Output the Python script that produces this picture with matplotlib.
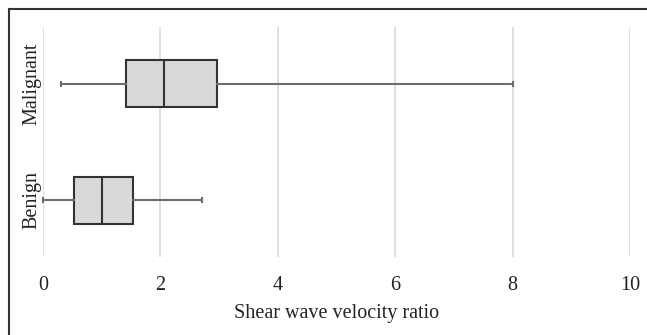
import matplotlib
matplotlib.use("Agg")
import matplotlib.pyplot as plt
from matplotlib.lines import Line2D

categories = ["Benign", "Malignant"]
whisker_low = [0.0, 0.31]
q1 = [0.52, 1.41]
median = [1.0, 2.06]
q3 = [1.53, 2.97]
whisker_high = [2.71, 8.0]
xticks = [0, 2, 4, 6, 8, 10]
xlabel = "Shear wave velocity ratio"

plt.rcParams['font.family'] = ['Liberation Serif', 'DejaVu Serif']

fig = plt.figure(figsize=(6.47, 3.35), dpi=100)
ax = fig.add_axes([43/647, (335-257)/335, 587/647, 230/335])

stats = []
for i, c in enumerate(categories):
    stats.append(dict(label=c, whislo=whisker_low[i], q1=q1[i], med=median[i],
                      q3=q3[i], whishi=whisker_high[i], fliers=[]))

ax.bxp(stats, positions=[1, 2], vert=False, widths=0.405, patch_artist=True,
       showfliers=False,
       boxprops=dict(facecolor="#d9d9d9", edgecolor="#333333", linewidth=1.5),
       medianprops=dict(color="#333333", linewidth=1.5),
       whiskerprops=dict(color="#6e6e6e", linewidth=1.5),
       capprops=dict(color="#6e6e6e", linewidth=1.5),
       capwidths=0.035)

for artist in ax.get_children():
    try:
        artist.set_clip_on(False)
    except Exception:
        pass

ax.set_xlim(0, 10)
ax.set_ylim(0.51, 2.49)
ax.set_xticks(xticks)
ax.set_xticklabels([str(t) for t in xticks], fontsize=14.5, color="#222222")
ax.set_yticks([1, 2])
ax.set_yticklabels(categories, rotation=90, va="center", fontsize=14.5, color="#222222")
ax.tick_params(axis='x', length=0, pad=14)
ax.tick_params(axis='y', length=0, pad=1)
ax.xaxis.grid(True, color="#d9d9d9", linewidth=1.2)
ax.set_axisbelow(True)
for s in ax.spines.values():
    s.set_visible(False)
ax.set_xlabel(xlabel, fontsize=14.5, color="#222222", labelpad=6)

fig.add_artist(Line2D([9/647, 9/647], [0, 1 - 9/335], transform=fig.transFigure,
                      color="#333333", linewidth=1.5))
fig.add_artist(Line2D([9/647, 1], [1 - 9/335, 1 - 9/335], transform=fig.transFigure,
                      color="#333333", linewidth=1.5))

fig.savefig("out.png", dpi=100)
